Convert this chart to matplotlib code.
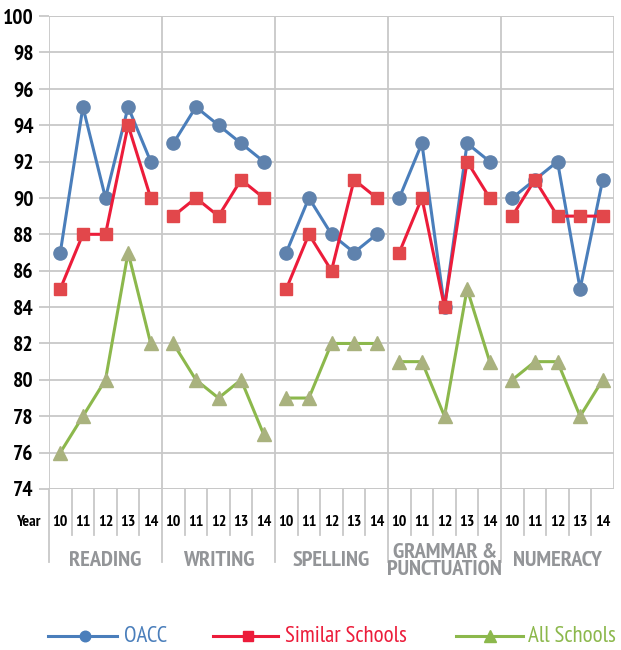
import matplotlib.pyplot as plt
from matplotlib.lines import Line2D
from matplotlib.transforms import blended_transform_factory

plt.rcParams['font.family'] = ['PT Sans Narrow', 'DejaVu Sans']

# Data
subjects = ['READING', 'WRITING', 'SPELLING', 'GRAMMAR &\nPUNCTUATION', 'NUMERACY']
years = ['10', '11', '12', '13', '14']

oacc = [[87, 95, 90, 95, 92],
        [93, 95, 94, 93, 92],
        [87, 90, 88, 87, 88],
        [90, 93, 84, 93, 92],
        [90, 91, 92, 85, 91]]
similar = [[85, 88, 88, 94, 90],
           [89, 90, 89, 91, 90],
           [85, 88, 86, 91, 90],
           [87, 90, 84, 92, 90],
           [89, 91, 89, 89, 89]]
all_schools = [[76, 78, 80, 87, 82],
               [82, 80, 79, 80, 77],
               [79, 79, 82, 82, 82],
               [81, 81, 78, 85, 81],
               [80, 81, 81, 78, 80]]

series = [
    ('OACC', oacc, '#4a7ebb', '#5f82ad', 'o', 9.5),
    ('Similar Schools', similar, '#ec1c3a', '#e2474b', 's', 9),
    ('All Schools', all_schools, '#8cb84c', '#a9b27e', '^', 10.5),
]
grid_c = '#c8c8c8'

W, H = 621, 650
fig = plt.figure(figsize=(W / 100, H / 100), dpi=100)
ax = fig.add_axes([49 / W, 1 - 489 / H, 565 / W, 473 / H])

n = len(years)
for k, (name, data, lc, mc, mk, ms) in enumerate(series):
    for g, vals in enumerate(data):
        xs = [g * n + i for i in range(n)]
        ax.plot(xs, vals, color=lc, lw=2.2, marker=mk, markersize=ms,
                markerfacecolor=mc, markeredgecolor=mc, zorder=3 + k)

ax.set_xlim(-0.5, len(subjects) * n - 0.5)
ax.set_ylim(74, 100)
ax.set_yticks(range(74, 101, 2))
ax.tick_params(axis='y', length=7, width=1.3, color=grid_c, labelsize=15.5, pad=4)
for lab in ax.get_yticklabels():
    lab.set_fontweight('bold')
ax.set_xticks([])
ax.grid(axis='y', color=grid_c, lw=1.3)
for s in ax.spines.values():
    s.set_visible(False)
ax.axhline(100, color=grid_c, lw=1.3)
ax.axhline(74, color=grid_c, lw=1.3)

trans = blended_transform_factory(ax.transData, ax.transAxes)
for g in range(len(subjects) + 1):
    xb = g * n - 0.5
    ax.plot([xb, xb], [0, 1], color=grid_c, lw=1.3, transform=trans, zorder=1)
    if g < len(subjects):
        ax.plot([xb, xb], [0, -0.155], color=grid_c, lw=1.3,
                transform=trans, clip_on=False)
        for i in range(1, n):
            xm = g * n + i - 0.5
            ax.plot([xm, xm], [0, -0.098], color=grid_c, lw=1.3,
                    transform=trans, clip_on=False)
        for i, y in enumerate(years):
            ax.text(g * n + i, -0.07, y, transform=trans, ha='center', va='center',
                    fontsize=11.5, fontweight='bold')
        ax.text(g * n + 2, -0.152, subjects[g], transform=trans, ha='center',
                va='center', fontsize=16, fontweight='bold', color='#939598',
                linespacing=0.9)
ax.text(-0.015, -0.07, 'Year', transform=ax.transAxes, ha='right', va='center',
        fontsize=11.5, fontweight='bold')

# legend drawn by hand to match the original spacing
legend_y = 1 - 636 / H
handles = [(48, 117, 85, 124), (213, 278, 248, 285), (456, 523, 490, 528)]
for (name, data, lc, mc, mk, ms), (x0, x1, xm, xt) in zip(series, handles):
    fig.add_artist(Line2D([x0 / W, x1 / W], [legend_y, legend_y], color=lc, lw=2.2,
                          transform=fig.transFigure))
    fig.add_artist(Line2D([xm / W], [legend_y], marker=mk, markersize=ms * 0.8,
                          color=lc, transform=fig.transFigure))
    fig.text(xt / W, legend_y, name, color=lc, fontsize=16.5, ha='left', va='center')

fig.savefig('out.png', dpi=100)
